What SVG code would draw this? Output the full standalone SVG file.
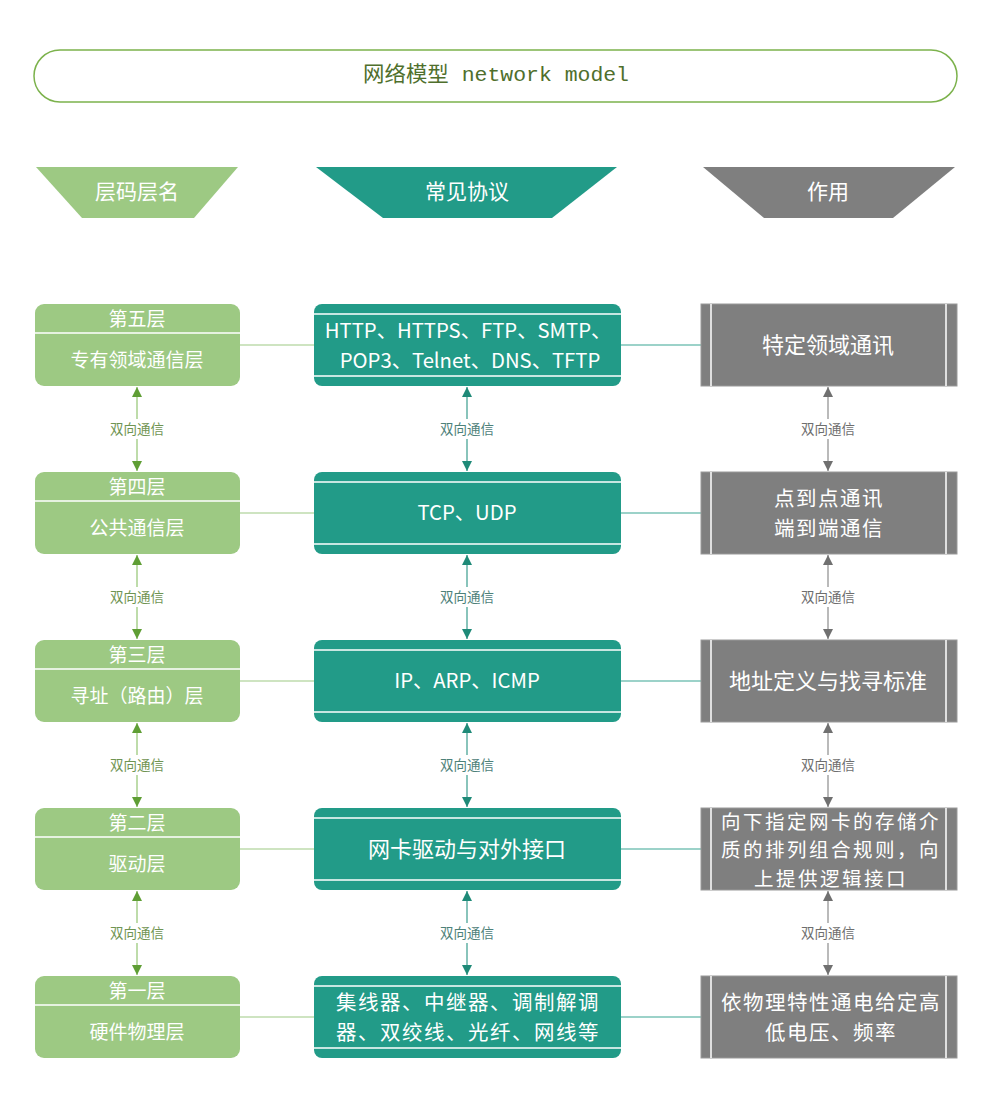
<svg xmlns="http://www.w3.org/2000/svg" width="1000" height="1104" viewBox="0 0 1000 1104">
<style>
text{font-family:"Noto Sans CJK SC","Liberation Sans",sans-serif;text-anchor:middle;dominant-baseline:central}
.lg{fill:#9dc983}
.tl{fill:#229b88}
.gy{fill:#7f7f7f}
.wl{stroke:#ffffff;stroke-width:1.5}
.hd{font-size:21px;fill:#ffffff}
.ls{font-size:19px;fill:#ffffff}
.ms{font-size:22px;fill:#ffffff}
.me{font-size:20.3px;fill:#ffffff}
.rs{font-size:22px;fill:#ffffff}
.m2{font-size:20.5px;letter-spacing:1.5px;fill:#ffffff}
.m3{font-size:19.5px;letter-spacing:2.5px;fill:#ffffff}
.lbl{font-size:13.5px}
</style>
<defs>
<marker id="ag" viewBox="0 0 10 10" refX="10" refY="5" markerWidth="10" markerHeight="10" markerUnits="userSpaceOnUse" orient="auto-start-reverse"><path d="M0,0 L10,5 L0,10 z" fill="#5f9e35"/></marker>
<marker id="at" viewBox="0 0 10 10" refX="10" refY="5" markerWidth="10" markerHeight="10" markerUnits="userSpaceOnUse" orient="auto-start-reverse"><path d="M0,0 L10,5 L0,10 z" fill="#1f8a78"/></marker>
<marker id="ay" viewBox="0 0 10 10" refX="10" refY="5" markerWidth="10" markerHeight="10" markerUnits="userSpaceOnUse" orient="auto-start-reverse"><path d="M0,0 L10,5 L0,10 z" fill="#707070"/></marker>
</defs>
<rect width="1000" height="1104" fill="#ffffff"/>

<g id="title">
<rect x="34" y="50" width="923" height="52" rx="26" fill="#ffffff" stroke="#7cb24c" stroke-width="1.5"/>
<text x="496" y="75" font-size="21" fill="#4f6f2c" style="font-family:'Liberation Mono','Noto Sans CJK SC',monospace" textLength="266" lengthAdjust="spacingAndGlyphs">网络模型 network model</text>
</g>

<g id="header-left">
<polygon points="36,167 238,167 194,218 82,218" class="lg"/>
<text x="137" y="190" class="hd">层码层名</text>
</g>
<g id="header-mid">
<polygon points="316,167 617,167 552,218 383,218" class="tl"/>
<text x="467" y="190" class="hd">常见协议</text>
</g>
<g id="header-right">
<polygon points="703,167 955,167 893,218 764,218" class="gy"/>
<text x="828" y="190" class="hd">作用</text>
</g>

<g id="connectors" fill="none">
<g stroke="#9dc983" stroke-width="1.2">
<line x1="240" y1="345" x2="314" y2="345"/>
<line x1="240" y1="513" x2="314" y2="513"/>
<line x1="240" y1="681" x2="314" y2="681"/>
<line x1="240" y1="849" x2="314" y2="849"/>
<line x1="240" y1="1017" x2="314" y2="1017"/>
</g>
<g stroke="#3aa594" stroke-width="1.2">
<line x1="621" y1="345" x2="701" y2="345"/>
<line x1="621" y1="513" x2="701" y2="513"/>
<line x1="621" y1="681" x2="701" y2="681"/>
<line x1="621" y1="849" x2="701" y2="849"/>
<line x1="621" y1="1017" x2="701" y2="1017"/>
</g>
<g stroke="#a9d08e" stroke-width="1.5" marker-start="url(#ag)" marker-end="url(#ag)">
<line x1="137" y1="387" x2="137" y2="471"/>
<line x1="137" y1="555" x2="137" y2="639"/>
<line x1="137" y1="723" x2="137" y2="807"/>
<line x1="137" y1="891" x2="137" y2="975"/>
</g>
<g stroke="#3a9d8e" stroke-width="1.2" marker-start="url(#at)" marker-end="url(#at)">
<line x1="467" y1="387" x2="467" y2="471"/>
<line x1="467" y1="555" x2="467" y2="639"/>
<line x1="467" y1="723" x2="467" y2="807"/>
<line x1="467" y1="891" x2="467" y2="975"/>
</g>
<g stroke="#8c8c8c" stroke-width="1.2" marker-start="url(#ay)" marker-end="url(#ay)">
<line x1="828" y1="387" x2="828" y2="471"/>
<line x1="828" y1="555" x2="828" y2="639"/>
<line x1="828" y1="723" x2="828" y2="807"/>
<line x1="828" y1="891" x2="828" y2="975"/>
</g>
<g stroke="none" fill="#ffffff">
<rect x="106" y="419" width="62" height="20"/><rect x="106" y="587" width="62" height="20"/><rect x="106" y="755" width="62" height="20"/><rect x="106" y="923" width="62" height="20"/>
<rect x="436" y="419" width="62" height="20"/><rect x="436" y="587" width="62" height="20"/><rect x="436" y="755" width="62" height="20"/><rect x="436" y="923" width="62" height="20"/>
<rect x="797" y="419" width="62" height="20"/><rect x="797" y="587" width="62" height="20"/><rect x="797" y="755" width="62" height="20"/><rect x="797" y="923" width="62" height="20"/>
</g>
<g fill="#6f9452" stroke="none">
<text x="137" y="428" class="lbl">双向通信</text><text x="137" y="596" class="lbl">双向通信</text><text x="137" y="764" class="lbl">双向通信</text><text x="137" y="932" class="lbl">双向通信</text>
</g>
<g fill="#4d8179" stroke="none">
<text x="467" y="428" class="lbl">双向通信</text><text x="467" y="596" class="lbl">双向通信</text><text x="467" y="764" class="lbl">双向通信</text><text x="467" y="932" class="lbl">双向通信</text>
</g>
<g fill="#6e6e6e" stroke="none">
<text x="828" y="428" class="lbl">双向通信</text><text x="828" y="596" class="lbl">双向通信</text><text x="828" y="764" class="lbl">双向通信</text><text x="828" y="932" class="lbl">双向通信</text>
</g>
</g>

<!-- Row 5 -->
<g id="layer5-name">
<rect x="35" y="304" width="205" height="82" rx="9" class="lg"/>
<line x1="35" y1="333" x2="240" y2="333" class="wl"/>
<text x="137" y="317" class="ls">第五层</text>
<text x="137" y="358" class="ls">专有领域通信层</text>
</g>
<g id="layer5-proto">
<rect x="314" y="304" width="307" height="82" rx="8" class="tl"/>
<line x1="314" y1="314" x2="621" y2="314" class="wl"/>
<line x1="314" y1="376" x2="621" y2="376" class="wl"/>
<text class="me"><tspan x="468" y="329">HTTP、HTTPS、FTP、SMTP、</tspan><tspan x="470" y="358.5">POP3、Telnet、DNS、TFTP</tspan></text>
</g>
<g id="layer5-func">
<rect x="701" y="304" width="256" height="82" class="gy" stroke="#9a9a9a" stroke-width="1"/>
<line x1="711" y1="304" x2="711" y2="386" class="wl"/>
<line x1="946" y1="304" x2="946" y2="386" class="wl"/>
<text x="828" y="343" class="rs">特定领域通讯</text>
</g>

<!-- Row 4 -->
<g id="layer4-name">
<rect x="35" y="472" width="205" height="82" rx="9" class="lg"/>
<line x1="35" y1="501" x2="240" y2="501" class="wl"/>
<text x="137" y="485" class="ls">第四层</text>
<text x="137" y="526" class="ls">公共通信层</text>
</g>
<g id="layer4-proto">
<rect x="314" y="472" width="307" height="82" rx="8" class="tl"/>
<line x1="314" y1="482" x2="621" y2="482" class="wl"/>
<line x1="314" y1="544" x2="621" y2="544" class="wl"/>
<text x="467" y="511" class="me">TCP、UDP</text>
</g>
<g id="layer4-func">
<rect x="701" y="472" width="256" height="82" class="gy" stroke="#9a9a9a" stroke-width="1"/>
<line x1="711" y1="472" x2="711" y2="554" class="wl"/>
<line x1="946" y1="472" x2="946" y2="554" class="wl"/>
<text class="m2"><tspan x="829" y="497">点到点通讯</tspan><tspan x="829" y="527">端到端通信</tspan></text>
</g>

<!-- Row 3 -->
<g id="layer3-name">
<rect x="35" y="640" width="205" height="82" rx="9" class="lg"/>
<line x1="35" y1="669" x2="240" y2="669" class="wl"/>
<text x="137" y="653" class="ls">第三层</text>
<text x="137" y="694" class="ls">寻址（路由）层</text>
</g>
<g id="layer3-proto">
<rect x="314" y="640" width="307" height="82" rx="8" class="tl"/>
<line x1="314" y1="650" x2="621" y2="650" class="wl"/>
<line x1="314" y1="712" x2="621" y2="712" class="wl"/>
<text x="467" y="679" class="me">IP、ARP、ICMP</text>
</g>
<g id="layer3-func">
<rect x="701" y="640" width="256" height="82" class="gy" stroke="#9a9a9a" stroke-width="1"/>
<line x1="711" y1="640" x2="711" y2="722" class="wl"/>
<line x1="946" y1="640" x2="946" y2="722" class="wl"/>
<text x="828" y="679" class="rs">地址定义与找寻标准</text>
</g>

<!-- Row 2 -->
<g id="layer2-name">
<rect x="35" y="808" width="205" height="82" rx="9" class="lg"/>
<line x1="35" y1="837" x2="240" y2="837" class="wl"/>
<text x="137" y="821" class="ls">第二层</text>
<text x="137" y="862" class="ls">驱动层</text>
</g>
<g id="layer2-proto">
<rect x="314" y="808" width="307" height="82" rx="8" class="tl"/>
<line x1="314" y1="818" x2="621" y2="818" class="wl"/>
<line x1="314" y1="880" x2="621" y2="880" class="wl"/>
<text x="467" y="847" class="ms">网卡驱动与对外接口</text>
</g>
<g id="layer2-func">
<rect x="701" y="808" width="256" height="82" class="gy" stroke="#9a9a9a" stroke-width="1"/>
<line x1="711" y1="808" x2="711" y2="890" class="wl"/>
<line x1="946" y1="808" x2="946" y2="890" class="wl"/>
<text class="m3"><tspan x="831" y="819.5">向下指定网卡的存储介</tspan><tspan x="831" y="848">质的排列组合规则，向</tspan><tspan x="831" y="876.5">上提供逻辑接口</tspan></text>
</g>

<!-- Row 1 -->
<g id="layer1-name">
<rect x="35" y="976" width="205" height="82" rx="9" class="lg"/>
<line x1="35" y1="1005" x2="240" y2="1005" class="wl"/>
<text x="137" y="989" class="ls">第一层</text>
<text x="137" y="1030" class="ls">硬件物理层</text>
</g>
<g id="layer1-proto">
<rect x="314" y="976" width="307" height="82" rx="8" class="tl"/>
<line x1="314" y1="986" x2="621" y2="986" class="wl"/>
<line x1="314" y1="1048" x2="621" y2="1048" class="wl"/>
<text class="m2"><tspan x="468" y="1001">集线器、中继器、调制解调</tspan><tspan x="468" y="1031">器、双绞线、光纤、网线等</tspan></text>
</g>
<g id="layer1-func">
<rect x="701" y="976" width="256" height="82" class="gy" stroke="#9a9a9a" stroke-width="1"/>
<line x1="711" y1="976" x2="711" y2="1058" class="wl"/>
<line x1="946" y1="976" x2="946" y2="1058" class="wl"/>
<text class="m2"><tspan x="831" y="1001">依物理特性通电给定高</tspan><tspan x="831" y="1031">低电压、频率</tspan></text>
</g>
</svg>
